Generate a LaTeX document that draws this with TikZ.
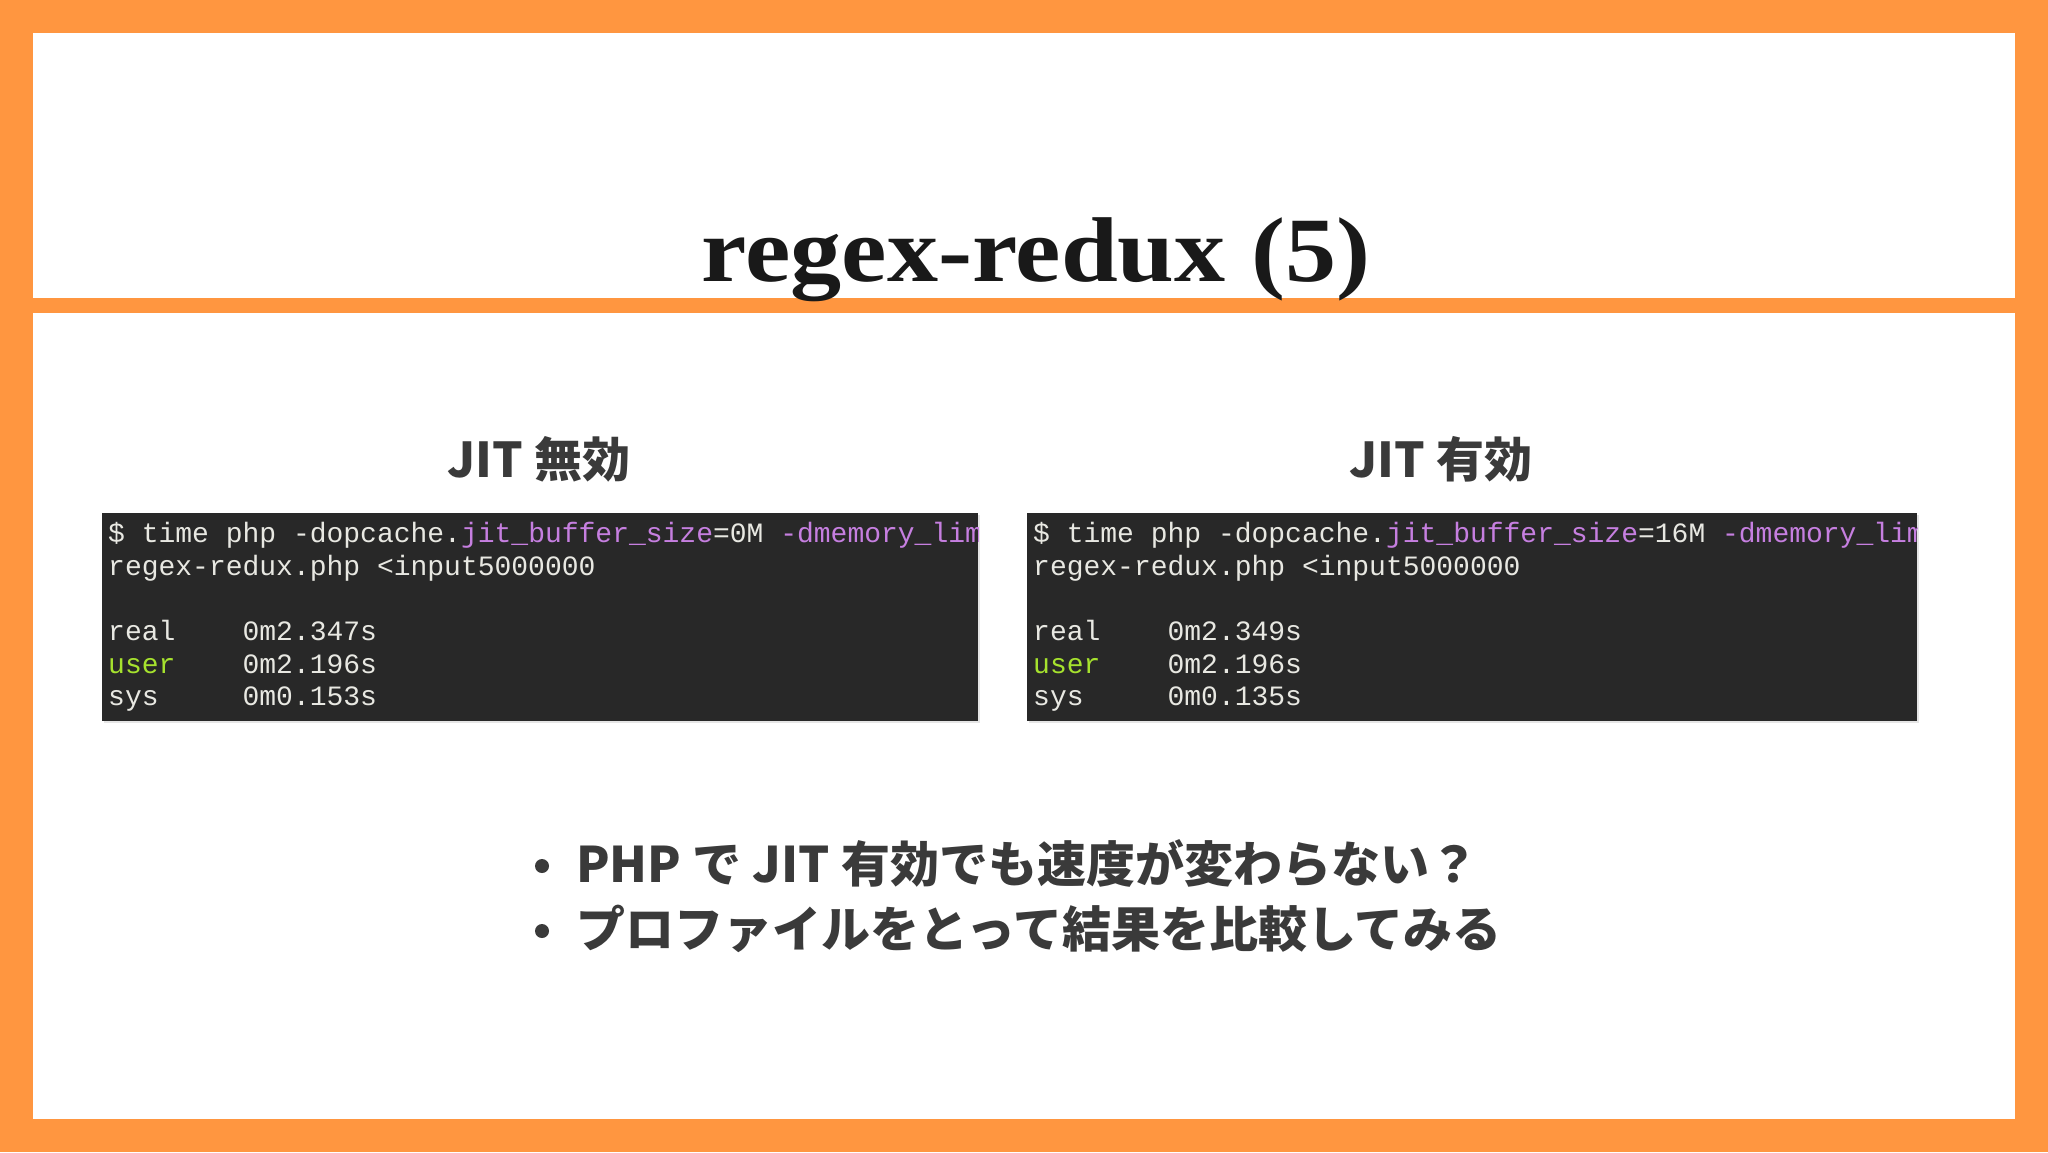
\documentclass[tikz,border=0pt]{standalone}
\usepackage{fontspec}
\setmainfont{Liberation Serif}
\newfontfamily\cjk{Noto Sans CJK JP}
\newfontfamily\mono{Liberation Mono}
\definecolor{orng}{HTML}{FF9640}
\definecolor{term}{HTML}{282828}
\definecolor{tx}{HTML}{E8E8E2}
\definecolor{purp}{HTML}{C67FE0}
\definecolor{grn}{HTML}{A6E22E}
\definecolor{dk}{HTML}{3A3A3A}
\begin{document}
\begin{tikzpicture}[x=1pt,y=-1pt,
  termline/.style={anchor=base west,inner sep=0pt,font=\mono\fontsize{28}{28}\selectfont,text=tx},
  sub/.style={font=\cjk\fontsize{48}{48}\selectfont\bfseries,text=dk,anchor=base},
  bul/.style={anchor=base west,inner sep=0pt,font=\cjk\fontsize{49}{49}\selectfont\bfseries,text=dk}]
\useasboundingbox (0,0) rectangle (2048,1152);
\fill[orng] (0,0) rectangle (2048,1152);
\fill[white] (33,33) rectangle (2015,298);
\fill[white] (33,313) rectangle (2015,1119);
\node[anchor=base,font=\fontsize{92}{92}\selectfont\bfseries,text=black!90,xscale=1.11] (title) at (1036,281) {regex-redux (5)};
\node[sub] (s1) at (539,477) {JIT 無効};
\node[sub] (s2) at (1441,477) {JIT 有効};
\fill[black!10] (104,515) rectangle (980,723);
\fill[black!10] (1029,515) rectangle (1919,723);
\fill[term] (102,513) rectangle (978,721);
\fill[term] (1027,513) rectangle (1917,721);
\begin{scope}
\clip (102,513) rectangle (978,721);
\node[termline] (a1) at (108,542) {\$ time php -dopcache.\textcolor{purp}{jit\_buffer\_size}=0M \textcolor{purp}{-dmemory\_limit}};
\end{scope}
\node[termline] (a2) at (108,575) {regex-redux.php <input5000000};
\node[termline] (a3) at (108,640) {real\ \ \ \ 0m2.347s};
\node[termline] (a4) at (108,673) {\textcolor{grn}{user}\ \ \ \ 0m2.196s};
\node[termline] (a5) at (108,705) {sys\ \ \ \ \ 0m0.153s};
\begin{scope}
\clip (1027,513) rectangle (1917,721);
\node[termline] (b1) at (1033,542) {\$ time php -dopcache.\textcolor{purp}{jit\_buffer\_size}=16M \textcolor{purp}{-dmemory\_limit}};
\end{scope}
\node[termline] (b2) at (1033,575) {regex-redux.php <input5000000};
\node[termline] (b3) at (1033,640) {real\ \ \ \ 0m2.349s};
\node[termline] (b4) at (1033,673) {\textcolor{grn}{user}\ \ \ \ 0m2.196s};
\node[termline] (b5) at (1033,705) {sys\ \ \ \ \ 0m0.135s};
\fill[dk] (542,866) circle (7);
\fill[dk] (542,931) circle (7);
\node[bul] (l1) at (576,882) {PHP で JIT 有効でも速度が変わらない？};
\node[bul] (l2) at (576,947) {プロファイルをとって結果を比較してみる};
\end{tikzpicture}
\end{document}
